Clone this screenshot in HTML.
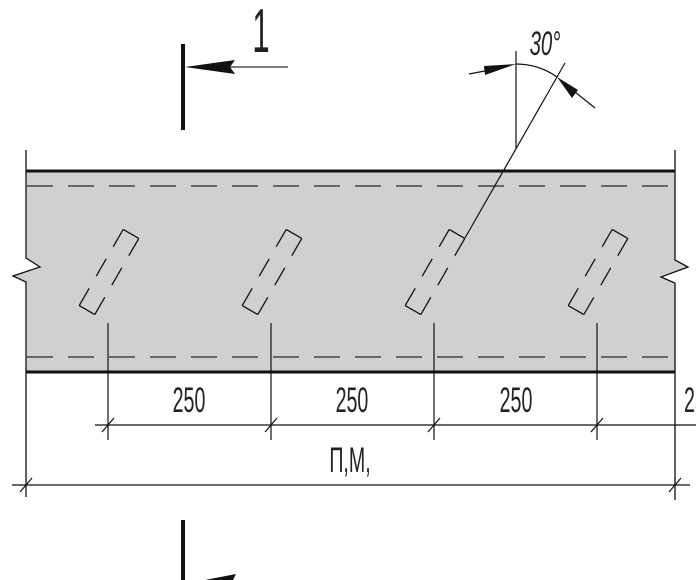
<!DOCTYPE html>
<html><head><meta charset="utf-8"><style>
html,body{margin:0;padding:0;background:#fff;width:696px;height:580px;overflow:hidden}
svg{display:block}
text{font-family:"Liberation Sans",sans-serif;fill:#222}
</style></head><body>
<svg width="696" height="580" viewBox="0 0 696 580" xmlns="http://www.w3.org/2000/svg">
<defs>
<g id="rb">
<path d="M-9,-44 L9,-44 M-9,44 L9,44" stroke="#111" stroke-width="1.3" fill="none"/>
<path d="M9,-44 L9,44 M-9,-44 L-9,44" stroke="#111" stroke-width="1.3" fill="none" stroke-dasharray="20,14"/>
</g>
</defs>
<polygon points="26,172 675,172 675,260 688,267 661,277 675,283 675,372 26,372 26,282 13,276 40,267 26,258" fill="#d0d0d0"/>
<line x1="26" y1="171" x2="675" y2="171" stroke="#111" stroke-width="3"/>
<line x1="26" y1="372" x2="675" y2="372" stroke="#111" stroke-width="3"/>
<line x1="27" y1="186" x2="675" y2="186" stroke="#444" stroke-width="1.6" stroke-dasharray="26,15"/>
<line x1="27" y1="357" x2="675" y2="357" stroke="#444" stroke-width="1.6" stroke-dasharray="26,15"/>
<polyline points="26,150 26,258 40,267 13,276 26,282 26,497" fill="none" stroke="#111" stroke-width="1.3"/>
<polyline points="675,150 675,260 688,267 661,277 675,283 675,500" fill="none" stroke="#111" stroke-width="1.3"/>
<use href="#rb" transform="translate(109,272) rotate(30)"/>
<use href="#rb" transform="translate(272,272) rotate(30)"/>
<use href="#rb" transform="translate(435,272) rotate(30)"/>
<use href="#rb" transform="translate(598,272) rotate(30)"/>
<g stroke="#111" stroke-width="1.2">
<line x1="108" y1="323" x2="108" y2="440"/>
<line x1="271" y1="323" x2="271" y2="440"/>
<line x1="434" y1="323" x2="434" y2="440"/>
<line x1="597" y1="323" x2="597" y2="440"/>
<line x1="95" y1="425" x2="696" y2="425"/>
<line x1="12" y1="485" x2="690" y2="485"/>
<line x1="102" y1="432" x2="114" y2="418"/>
<line x1="265" y1="432" x2="277" y2="418"/>
<line x1="428" y1="432" x2="440" y2="418"/>
<line x1="591" y1="432" x2="603" y2="418"/>
<line x1="20" y1="492" x2="32" y2="478"/>
<line x1="669" y1="492" x2="681" y2="478"/>
</g>
<g font-size="35" text-anchor="middle">
<text x="189" y="412" transform="translate(189,0) scale(0.56,1) translate(-189,0)">250</text>
<text x="352" y="412" transform="translate(352,0) scale(0.56,1) translate(-352,0)">250</text>
<text x="516" y="412" transform="translate(516,0) scale(0.56,1) translate(-516,0)">250</text>
<text x="684" y="412" text-anchor="start" transform="translate(684,0) scale(0.56,1) translate(-684,0)">250</text>
<text x="350" y="472" transform="translate(350,0) scale(0.56,1) translate(-350,0)">П,М,</text>
</g>
<line x1="183" y1="44" x2="183" y2="130" stroke="#111" stroke-width="4"/>
<line x1="230" y1="67" x2="288" y2="67" stroke="#333" stroke-width="1.3"/>
<polygon points="185,67 235,60 230,67 235,74" fill="#111"/>
<text x="261" y="52" font-size="62" text-anchor="middle" transform="translate(261,0) scale(0.5,1) translate(-261,0)">1</text>
<line x1="183" y1="520" x2="183" y2="580" stroke="#111" stroke-width="4"/>
<polygon points="205,580 236,574 232,582" fill="#111"/>
<g stroke="#111" stroke-width="1.2" fill="none">
<line x1="516" y1="51" x2="516" y2="148"/>
<line x1="565" y1="63" x2="465" y2="238"/>
<path d="M516,64 A71,71 0 0 1 557,77"/>
<line x1="469" y1="74" x2="490" y2="70"/>
<line x1="575" y1="92" x2="595" y2="108"/>
</g>
<polygon points="516,64 484,66 485,75" fill="#111"/>
<polygon points="557,77 578,90 572,98" fill="#111"/>
<text x="545" y="55" font-size="34" font-style="italic" text-anchor="middle" transform="translate(545,0) scale(0.6,1) translate(-545,0)">30°</text>
</svg>
</body></html>
